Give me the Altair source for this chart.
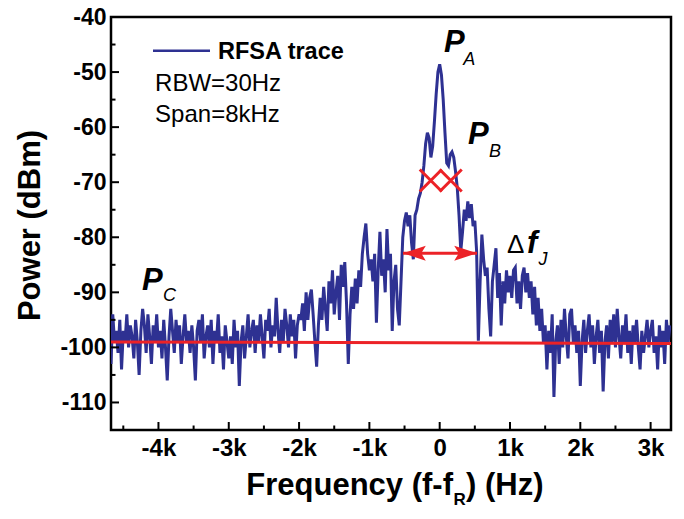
import altair as alt
import pandas as pd

# ---------------- data ----------------
F_STEP = 25  # Hz between trace samples
SEG_STARTS = [-4675, -3975, -2975, -1975, -975, 25, 1025, 2025, 3025]
seg1 = [-103, -94, -99, -97, -101, -95, -104, -97, -99, -94,
        -100, -96, -98, -102, -95, -99, -105, -97, -93, -96,
        -101, -94, -98, -103, -96, -99, -94, -100]
seg2 = [-97, -102, -95, -100, -106, -98, -93, -97, -101, -95,
        -99, -96, -103, -98, -94, -99, -97, -101, -96, -100,
        -106, -97, -95, -99, -94, -102, -98, -96, -100, -95,
        -103, -97, -99, -94, -101, -98, -104, -96, -99, -102]
seg3 = [-98, -103, -95, -100, -97, -107, -99, -96, -102, -98,
        -94, -100, -97, -95, -101, -96, -99, -94, -98, -102,
        -95, -97, -93, -100, -96, -98, -91, -97, -101, -95,
        -99, -93, -96, -100, -94, -98, -95, -102, -96, -94]
seg4 = [-95, -92, -97, -90, -95, -91, -89.5, -94, -99, -103.5,
        -96, -91, -95, -89, -93, -97, -88, -92, -86, -94,
        -90, -87, -95, -85, -89, -84.5, -92, -103, -94, -89,
        -93, -87.5, -92, -86, -89, -83, -80, -77.5, -83, -86]
seg5 = [-84, -88, -83, -95.5, -86, -79, -87, -84, -90, -78.5,
        -86, -83, -97, -88, -85, -93, -96, -88, -80, -77,
        -75.5, -78, -76, -81, -84, -76, -75, -73, -72, -70,
        -67, -63, -61, -62, -65.5, -63.5, -59, -54, -50, -48.6]
seg6 = [-50.5, -55, -61, -66.5, -67, -65, -64.5, -65.5, -68, -71,
        -76, -82.5, -79, -75, -77, -73.5, -76.5, -74, -78, -77,
        -82.5, -98.8, -88, -79.5, -84, -87, -85.5, -93, -98, -88,
        -85, -82, -91, -86.5, -96, -88, -92, -86, -90, -87]
seg7 = [-91, -86, -85.5, -92, -88, -93, -87, -85.5, -90, -86.5,
        -91, -88, -94, -89, -96, -91, -97, -93, -99, -96,
        -104, -97, -101, -94, -109, -99, -96, -103, -95, -100,
        -93, -98, -102, -94, -93, -99, -96, -101, -97, -107]
seg8 = [-99, -95, -101, -97, -94, -100, -96, -103, -98, -95,
        -101, -97, -108, -99, -96, -102, -95, -99, -94, -100,
        -93, -98, -102, -96, -99, -94, -101, -97, -103, -96,
        -99, -95, -100, -104, -97, -101, -98, -95, -100, -97]
seg9 = [-95, -101, -98, -104, -96, -100, -97, -103, -95, -99, -96]
SEGMENTS = [seg1, seg2, seg3, seg4, seg5, seg6, seg7, seg8, seg9]

freq, power = [], []
for start, seg in zip(SEG_STARTS, SEGMENTS):
    for i, v in enumerate(seg):
        freq.append(start + i * F_STEP)
        power.append(v)

floor_freq = [-4675, 3290]
floor_power = [-99.0, -99.3]

X_DOMAIN = [-4675, 3290]
Y_DOMAIN = [-115, -40]
x_major = [-4000, -3000, -2000, -1000, 0, 1000, 2000, 3000]
x_minor = [-4500, -3500, -2500, -1500, -500, 500, 1500, 2500]
y_major = [-110, -100, -90, -80, -70, -60, -50, -40]
y_minor = [-105, -95, -85, -75, -65, -55, -45]

# markers for the half-power crosses and the width arrow
cross_f = [-127, 157]
cross_p = [-69.7, -69.7]
arrow_f = [-522, 531]
arrow_p = [-82.9, -82.9]

# annotation labels (data coordinates)
big_text = ["P", "P", "P"]
big_f = [61, 403, -4234]
big_p = [-46.3, -63.0, -89.6]
sub_text = ["A", "B", "C"]
sub_f = [335, 700, -3936]
sub_p = [-48.7, -65.4, -91.5]
delta_f, delta_p = 957, -82.9
fj_f, fj_p = 1242, -82.9
j_f, j_p = 1405, -85.1
info_text = ["RBW=30Hz", "Span=8kHz"]
info_f = [-4048, -4048]
info_p = [-53.5, -59.0]
legend_label = "RFSA trace"

BLUE = "#2E3192"
RED = "#EC2227"
FONT = "Liberation Sans"
W, H = 560, 413

xs = alt.Scale(domain=X_DOMAIN, nice=False, zero=False)
ys = alt.Scale(domain=Y_DOMAIN, nice=False, zero=False)

X_AXIS = alt.Axis(
    values=x_major, labelExpr="datum.value == 0 ? '0' : (datum.value/1000) + 'k'",
    ticks=False, tickSize=0, domain=False, grid=False, labelFontSize=24,
    labelFontWeight="bold", labelPadding=6, labelColor="black", labelFont=FONT,
    title=None, labelFlush=False, labelOverlap=False)
Y_AXIS = alt.Axis(
    values=y_major, labelExpr="'' + datum.value",
    ticks=False, tickSize=0, domain=False, grid=False, labelFontSize=23,
    labelFontWeight="bold", labelPadding=5, labelColor="black", labelFont=FONT,
    labelFlush=False, labelOverlap=False,
    title="Power (dBm)", titleFont=FONT, titleFontSize=31, titleFontWeight="bold",
    titleColor="black", titleAngle=270, titleX=-81, titleY=208,
    titleAlign="center", titleBaseline="middle")

def X(field):
    return alt.X(field, scale=xs, axis=X_AXIS)

def Y(field):
    return alt.Y(field, scale=ys, axis=Y_AXIS)

# ---------------- layers ----------------
trace = alt.Chart(pd.DataFrame({"f": freq, "p": power})).mark_line(
    color=BLUE, strokeWidth=3, clip=True
).encode(x=X("f:Q"), y=Y("p:Q"))

floor = alt.Chart(pd.DataFrame({"f": floor_freq, "p": floor_power})).mark_line(
    color=RED, strokeWidth=3
).encode(x=X("f:Q"), y=Y("p:Q"))

def xticks(vals, length):
    return alt.Chart(pd.DataFrame({"f": vals})).mark_rule(color="black", strokeWidth=2).encode(
        x=X("f:Q"), y=alt.value(H), y2=alt.value(H - length))

def yticks(vals, length):
    return alt.Chart(pd.DataFrame({"p": vals})).mark_rule(color="black", strokeWidth=2).encode(
        y=Y("p:Q"), x=alt.value(0), x2=alt.value(length))

crosses = alt.Chart(pd.DataFrame({"f": cross_f, "p": cross_p})).mark_point(
    shape="M-1,-1L1,1M-1,1L1,-1", filled=False, color=RED, strokeWidth=3, size=484, opacity=1
).encode(x=X("f:Q"), y=Y("p:Q"))

arrow_df = pd.DataFrame({"f": [arrow_f[0]], "f2": [arrow_f[1]], "p": [arrow_p[0]]})
shaft = alt.Chart(arrow_df).mark_rule(color=RED, strokeWidth=3).encode(
    x=X("f:Q"), x2="f2:Q", y=Y("p:Q"))
head_l = alt.Chart(pd.DataFrame({"f": [arrow_f[0]], "p": [arrow_p[0]]})).mark_point(
    shape="M0,0L4,-1.3L3.2,0L4,1.3Z", filled=True, color=RED, size=130, opacity=1
).encode(x=X("f:Q"), y=Y("p:Q"))
head_r = alt.Chart(pd.DataFrame({"f": [arrow_f[1]], "p": [arrow_p[1]]})).mark_point(
    shape="M0,0L-4,-1.3L-3.2,0L-4,1.3Z", filled=True, color=RED, size=130, opacity=1
).encode(x=X("f:Q"), y=Y("p:Q"))

def label(texts, fs, ps, size, weight="normal", style="normal"):
    df = pd.DataFrame({"t": texts, "f": fs, "p": ps})
    return alt.Chart(df).mark_text(
        font=FONT, fontSize=size, fontWeight=weight, fontStyle=style, color="black",
        align="left", baseline="alphabetic"
    ).encode(x=X("f:Q"), y=Y("p:Q"), text="t:N")

big_labels = label(big_text, big_f, big_p, 31, "bold", "italic")
sub_labels = label(sub_text, sub_f, sub_p, 18, "normal", "italic")
delta_label = label(["\u0394"], [delta_f], [delta_p], 26)
f_label = label(["f"], [fj_f], [fj_p], 31, "bold", "italic")
j_label = label(["J"], [j_f], [j_p], 18, "normal", "italic")
info_labels = label(info_text, info_f, info_p, 24)

legend_line = alt.Chart(pd.DataFrame({"t": [legend_label]})).mark_rule(
    color=BLUE, strokeWidth=2.5
).encode(x=alt.value(42), x2=alt.value(99), y=alt.value(33.7))
legend_text = alt.Chart(pd.DataFrame({"t": [legend_label]})).mark_text(
    font=FONT, fontSize=23.5, fontWeight="bold", color="black", align="left", baseline="alphabetic"
).encode(x=alt.value(107), y=alt.value(41.5), text="t:N")

def title_piece(txt, x, y, size, align):
    return alt.Chart(pd.DataFrame({"t": [txt]})).mark_text(
        font=FONT, fontSize=size, fontWeight="bold", color="black", align=align, baseline="alphabetic"
    ).encode(x=alt.value(x), y=alt.value(y), text="t:N")

xt1 = title_piece("Frequency (f-f", 342, 478, 31, "right")
xt2 = title_piece("R", 342.5, 488, 17, "left")
xt3 = title_piece(") (Hz)", 355, 478, 31, "left")

chart = alt.layer(
    trace, floor,
    xticks(x_major, 8), xticks(x_minor, 4.5), yticks(y_major, 8), yticks(y_minor, 4.5),
    crosses, shaft, head_l, head_r,
    big_labels, sub_labels, delta_label, f_label, j_label, info_labels,
    legend_line, legend_text, xt1, xt2, xt3,
).properties(
    width=W, height=H,
    autosize=alt.AutoSizeParams(type="none"),
    padding={"left": 103, "top": 9, "right": 5, "bottom": 81},
    background="white",
).configure_view(stroke="black", strokeWidth=2.5)

chart.save("out.html", embed_options={"renderer": "svg", "actions": False})
